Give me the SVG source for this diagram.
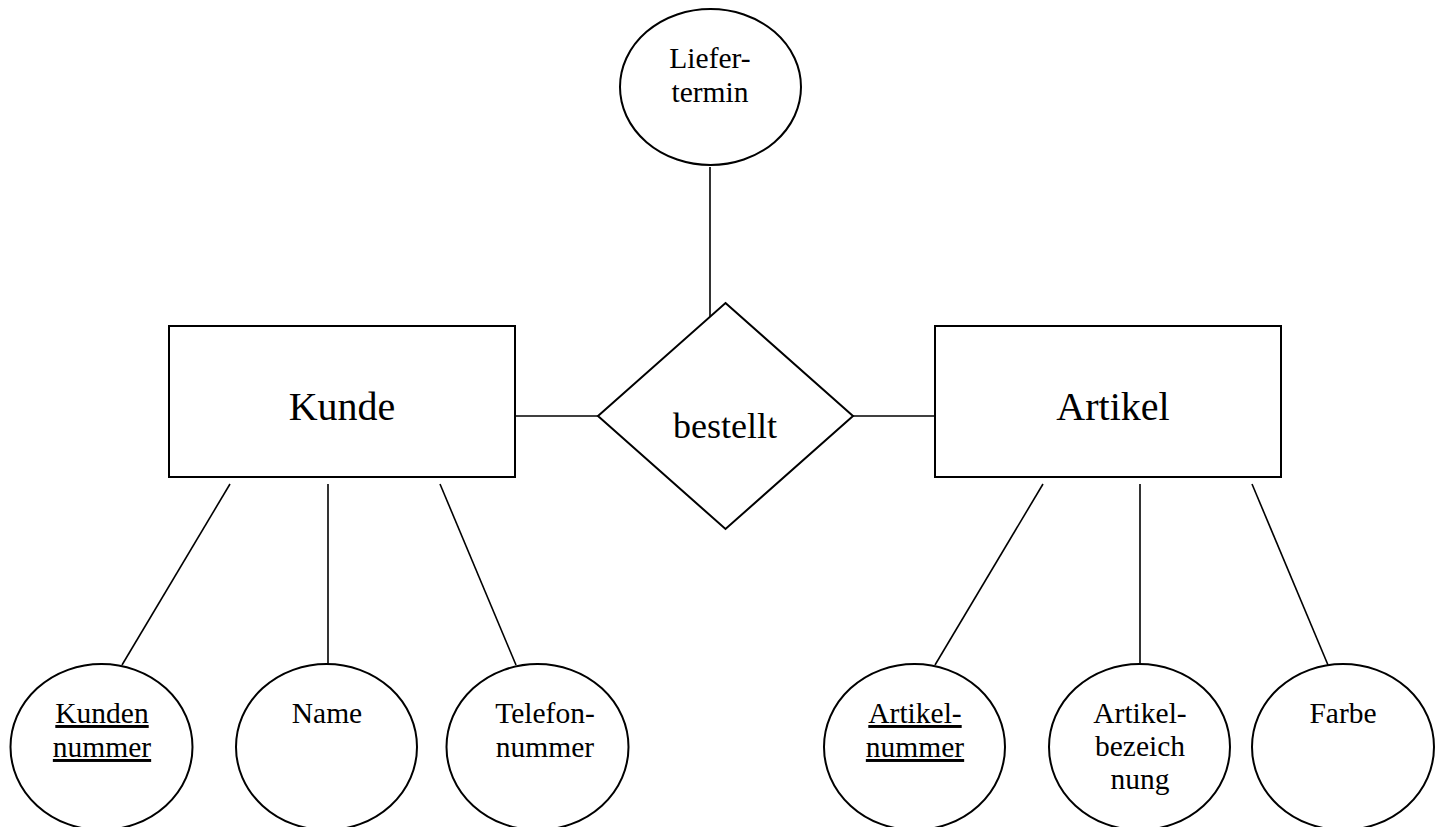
<svg xmlns="http://www.w3.org/2000/svg" width="1437" height="827" viewBox="0 0 1437 827">
<style>
.s{fill:#fff;stroke:#000;stroke-width:2}
.c line{stroke:#000;stroke-width:1.6}
text{font-family:"Liberation Serif","Times New Roman",serif;fill:#000;text-anchor:middle}
.e{font-size:40px}
.r{font-size:36px}
.a{font-size:29.5px}
.u{text-decoration:underline}
</style>
<rect width="1437" height="827" fill="#fff"/>
<g class="c" id="connectors">
<line x1="710" y1="167" x2="710" y2="318"/>
<line x1="507" y1="416" x2="598" y2="416"/>
<line x1="853" y1="416" x2="935" y2="416"/>
<line x1="230" y1="484" x2="122" y2="665"/>
<line x1="328" y1="484" x2="328" y2="665"/>
<line x1="440" y1="484" x2="516" y2="665"/>
<line x1="1043" y1="484" x2="935" y2="665"/>
<line x1="1140" y1="484" x2="1140" y2="665"/>
<line x1="1252" y1="484" x2="1328" y2="665"/>
</g>
<g id="liefertermin"><ellipse class="s" cx="710.5" cy="87" rx="90.5" ry="78"/><text class="a" x="710" y="68">Liefer-</text><text class="a" x="710" y="102">termin</text></g>
<g id="kunde"><rect class="s" x="169" y="326" width="346" height="151"/><text class="e" x="342" y="420">Kunde</text></g>
<g id="bestellt"><polygon class="s" points="725.5,303 853,416 725.5,529 598,416"/><text class="r" x="725" y="438">bestellt</text></g>
<g id="artikel"><rect class="s" x="935" y="326" width="346" height="151"/><text class="e" x="1113" y="420">Artikel</text></g>
<g id="kundennummer"><ellipse class="s" cx="101.5" cy="747" rx="91" ry="83"/><text class="a u" x="102" y="723">Kunden</text><text class="a u" x="102" y="757">nummer</text></g>
<g id="name"><ellipse class="s" cx="326.5" cy="747" rx="90.5" ry="83"/><text class="a" x="327" y="723">Name</text></g>
<g id="telefonnummer"><ellipse class="s" cx="537.5" cy="747" rx="91" ry="83"/><text class="a" x="545" y="723">Telefon-</text><text class="a" x="545" y="757">nummer</text></g>
<g id="artikelnummer"><ellipse class="s" cx="914.5" cy="747" rx="90.5" ry="83"/><text class="a u" x="915" y="723">Artikel-</text><text class="a u" x="915" y="757">nummer</text></g>
<g id="artikelbezeichnung"><ellipse class="s" cx="1139.5" cy="747" rx="90.5" ry="83"/><text class="a" x="1140" y="723">Artikel-</text><text class="a" x="1140" y="756">bezeich</text><text class="a" x="1140" y="789">nung</text></g>
<g id="farbe"><ellipse class="s" cx="1343" cy="747" rx="91" ry="83"/><text class="a" x="1343" y="723">Farbe</text></g>
</svg>
